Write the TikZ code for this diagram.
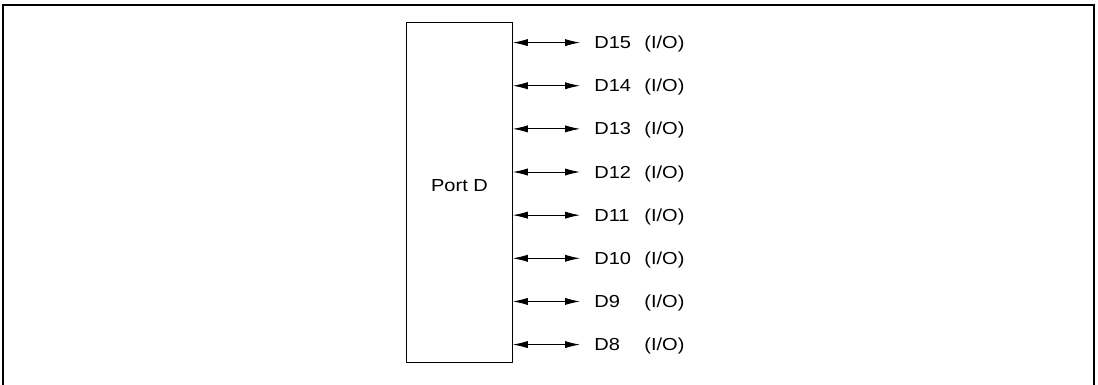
\documentclass[tikz,border=0pt]{standalone}
\usepackage{fontspec}
\setmainfont{Liberation Sans}
\usepackage{graphicx}
\usetikzlibrary{arrows.meta}
\newcommand{\widetext}[1]{\scalebox{1.15}[1]{#1}}
\tikzset{
  portbox/.style={draw, line width=0.5pt, minimum width=52.8pt, minimum height=170pt, inner sep=0pt},
  pinname/.style={inner sep=0pt, font=\fontsize{8.7}{10.4}\selectfont},
  bidir/.style={{Latex[length=7.5pt,width=3.6pt]}-{Latex[length=7.5pt,width=3.6pt]}, line width=0.45pt}
}
\begin{document}
\begin{tikzpicture}[x=0.5pt,y=-0.5pt]
\useasboundingbox (0,0) rectangle (1098,385);
\draw[line width=0.8pt] (3,385) -- (3,5) -- (1094,5) -- (1094,385);
\node[portbox] (port) at (459.5,192.7) {};
\node[pinname] (portname) at (459.5,186) {\widetext{Port D}};
\foreach \i in {15,...,8}
{
\pgfmathsetmacro\y{42.6+(15-\i)*43.14}
\node[pinname,anchor=west] (d\i) at (594,\y) {\widetext{D\i}};
\node[pinname,anchor=base west] (io\i) at ([xshift=25pt]d\i.base west) {\widetext{(I/O)}};
\draw[bidir] (port.east |- d\i.west) -- ([xshift=-7pt]d\i.west);
}
\end{tikzpicture}
\end{document}
